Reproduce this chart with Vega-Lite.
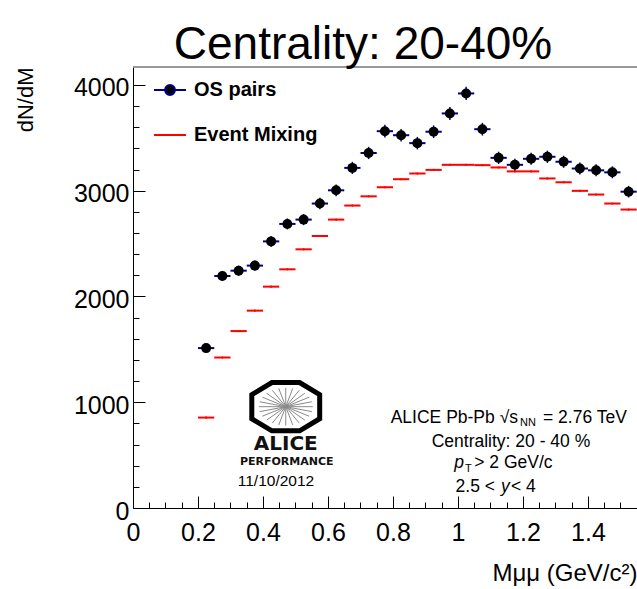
{
  "$schema": "https://vega.github.io/schema/vega-lite/v6.json",
  "width": 504,
  "height": 441,
  "autosize": {"type": "none"},
  "padding": {"left": 133, "top": 67, "right": 0, "bottom": 81},
  "background": "white",
  "config": {
    "font": "Liberation Sans",
    "view": {"stroke": null},
    "axis": {"grid": false, "domainColor": "black", "tickColor": "black", "labelColor": "black", "titleColor": "black", "labelFont": "Liberation Sans", "titleFont": "Liberation Sans", "labelOverlap": false}
  },
  "title": {
    "text": "Centrality: 20-40%",
    "fontSize": 46,
    "font": "Liberation Sans",
    "fontWeight": "normal",
    "color": "black",
    "anchor": "middle",
    "dx": -22,
    "dy": 49,
    "offset": 10,
    "baseline": "alphabetic"
  },
  "resolve": {"axis": {"x": "independent", "y": "independent"}},
  "datasets": {
    "hist": [
      {"m": 0.225, "lo": 0.20, "hi": 0.25, "series": "OS pairs", "val": 1512, "err": 40},
      {"m": 0.275, "lo": 0.25, "hi": 0.30, "series": "OS pairs", "val": 2194, "err": 48},
      {"m": 0.325, "lo": 0.30, "hi": 0.35, "series": "OS pairs", "val": 2244, "err": 48},
      {"m": 0.375, "lo": 0.35, "hi": 0.40, "series": "OS pairs", "val": 2292, "err": 48},
      {"m": 0.425, "lo": 0.40, "hi": 0.45, "series": "OS pairs", "val": 2521, "err": 50},
      {"m": 0.475, "lo": 0.45, "hi": 0.50, "series": "OS pairs", "val": 2686, "err": 52},
      {"m": 0.525, "lo": 0.50, "hi": 0.55, "series": "OS pairs", "val": 2727, "err": 52},
      {"m": 0.575, "lo": 0.55, "hi": 0.60, "series": "OS pairs", "val": 2879, "err": 54},
      {"m": 0.625, "lo": 0.60, "hi": 0.65, "series": "OS pairs", "val": 3004, "err": 55},
      {"m": 0.675, "lo": 0.65, "hi": 0.70, "series": "OS pairs", "val": 3216, "err": 57},
      {"m": 0.725, "lo": 0.70, "hi": 0.75, "series": "OS pairs", "val": 3357, "err": 58},
      {"m": 0.775, "lo": 0.75, "hi": 0.80, "series": "OS pairs", "val": 3563, "err": 60},
      {"m": 0.825, "lo": 0.80, "hi": 0.85, "series": "OS pairs", "val": 3525, "err": 59},
      {"m": 0.875, "lo": 0.85, "hi": 0.90, "series": "OS pairs", "val": 3450, "err": 59},
      {"m": 0.925, "lo": 0.90, "hi": 0.95, "series": "OS pairs", "val": 3558, "err": 60},
      {"m": 0.975, "lo": 0.95, "hi": 1.00, "series": "OS pairs", "val": 3731, "err": 61},
      {"m": 1.025, "lo": 1.00, "hi": 1.05, "series": "OS pairs", "val": 3920, "err": 63},
      {"m": 1.075, "lo": 1.05, "hi": 1.10, "series": "OS pairs", "val": 3582, "err": 60},
      {"m": 1.125, "lo": 1.10, "hi": 1.15, "series": "OS pairs", "val": 3311, "err": 58},
      {"m": 1.175, "lo": 1.15, "hi": 1.20, "series": "OS pairs", "val": 3245, "err": 57},
      {"m": 1.225, "lo": 1.20, "hi": 1.25, "series": "OS pairs", "val": 3302, "err": 57},
      {"m": 1.275, "lo": 1.25, "hi": 1.30, "series": "OS pairs", "val": 3321, "err": 58},
      {"m": 1.325, "lo": 1.30, "hi": 1.35, "series": "OS pairs", "val": 3274, "err": 57},
      {"m": 1.375, "lo": 1.35, "hi": 1.40, "series": "OS pairs", "val": 3210, "err": 57},
      {"m": 1.425, "lo": 1.40, "hi": 1.45, "series": "OS pairs", "val": 3193, "err": 57},
      {"m": 1.475, "lo": 1.45, "hi": 1.50, "series": "OS pairs", "val": 3174, "err": 56},
      {"m": 1.525, "lo": 1.50, "hi": 1.55, "series": "OS pairs", "val": 2991, "err": 55},
      {"m": 0.225, "lo": 0.20, "hi": 0.25, "series": "Event Mixing", "val": 855, "err": 10},
      {"m": 0.275, "lo": 0.25, "hi": 0.30, "series": "Event Mixing", "val": 1423, "err": 10},
      {"m": 0.325, "lo": 0.30, "hi": 0.35, "series": "Event Mixing", "val": 1673, "err": 10},
      {"m": 0.375, "lo": 0.35, "hi": 0.40, "series": "Event Mixing", "val": 1866, "err": 10},
      {"m": 0.425, "lo": 0.40, "hi": 0.45, "series": "Event Mixing", "val": 2093, "err": 10},
      {"m": 0.475, "lo": 0.45, "hi": 0.50, "series": "Event Mixing", "val": 2257, "err": 10},
      {"m": 0.525, "lo": 0.50, "hi": 0.55, "series": "Event Mixing", "val": 2446, "err": 10},
      {"m": 0.575, "lo": 0.55, "hi": 0.60, "series": "Event Mixing", "val": 2572, "err": 10},
      {"m": 0.625, "lo": 0.60, "hi": 0.65, "series": "Event Mixing", "val": 2727, "err": 10},
      {"m": 0.675, "lo": 0.65, "hi": 0.70, "series": "Event Mixing", "val": 2860, "err": 10},
      {"m": 0.725, "lo": 0.70, "hi": 0.75, "series": "Event Mixing", "val": 2947, "err": 10},
      {"m": 0.775, "lo": 0.75, "hi": 0.80, "series": "Event Mixing", "val": 3033, "err": 10},
      {"m": 0.825, "lo": 0.80, "hi": 0.85, "series": "Event Mixing", "val": 3109, "err": 10},
      {"m": 0.875, "lo": 0.85, "hi": 0.90, "series": "Event Mixing", "val": 3163, "err": 10},
      {"m": 0.925, "lo": 0.90, "hi": 0.95, "series": "Event Mixing", "val": 3197, "err": 10},
      {"m": 0.975, "lo": 0.95, "hi": 1.00, "series": "Event Mixing", "val": 3245, "err": 10},
      {"m": 1.025, "lo": 1.00, "hi": 1.05, "series": "Event Mixing", "val": 3245, "err": 10},
      {"m": 1.075, "lo": 1.05, "hi": 1.10, "series": "Event Mixing", "val": 3242, "err": 10},
      {"m": 1.125, "lo": 1.10, "hi": 1.15, "series": "Event Mixing", "val": 3220, "err": 10},
      {"m": 1.175, "lo": 1.15, "hi": 1.20, "series": "Event Mixing", "val": 3183, "err": 10},
      {"m": 1.225, "lo": 1.20, "hi": 1.25, "series": "Event Mixing", "val": 3183, "err": 10},
      {"m": 1.275, "lo": 1.25, "hi": 1.30, "series": "Event Mixing", "val": 3116, "err": 10},
      {"m": 1.325, "lo": 1.30, "hi": 1.35, "series": "Event Mixing", "val": 3080, "err": 10},
      {"m": 1.375, "lo": 1.35, "hi": 1.40, "series": "Event Mixing", "val": 2999, "err": 10},
      {"m": 1.425, "lo": 1.40, "hi": 1.45, "series": "Event Mixing", "val": 2964, "err": 10},
      {"m": 1.475, "lo": 1.45, "hi": 1.50, "series": "Event Mixing", "val": 2879, "err": 10},
      {"m": 1.525, "lo": 1.50, "hi": 1.55, "series": "Event Mixing", "val": 2822, "err": 10}
    ],
    "one": [{}]
  },
  "layer": [
    {
      "data": {"name": "hist"},
      "mark": {"type": "rule", "strokeWidth": 2},
      "encoding": {
        "x": {
          "field": "lo", "type": "quantitative",
          "scale": {"domain": [0, 1.5508], "nice": false, "zero": false},
          "axis": {
            "orient": "bottom",
            "values": [0, 0.2, 0.4, 0.6, 0.8, 1, 1.2, 1.4],
            "format": "~g",
            "labelOverlap": false,
            "labelBound": false,
            "labelFlush": false,
            "labelFontSize": 25,
            "labelPadding": 12,
            "labelBaseline": "top",
            "ticks": false,
            "title": "Mμμ (GeV/c²)",
            "titleFontSize": 24,
            "titleFontWeight": "normal",
            "titleAnchor": "end",
            "titleBaseline": "alphabetic",
            "titleY": 72
          }
        },
        "x2": {"field": "hi"},
        "y": {
          "field": "val", "type": "quantitative",
          "scale": {"domain": [0, 4170], "nice": false},
          "axis": {
            "orient": "left",
            "values": [0, 1000, 2000, 3000, 4000],
            "format": "d",
            "labelOverlap": false,
            "labelBound": false,
            "labelFlush": false,
            "labelFontSize": 25,
            "labelPadding": 4,
            "labelOffset": 3,
            "ticks": false,
            "title": "dN/dM",
            "titleFontSize": 22,
            "titleFontWeight": "normal",
            "titleAnchor": "end",
            "titleAngle": -90,
            "titleBaseline": "alphabetic",
            "titleX": -101,
            "titleY": 0
          }
        },
        "stroke": {
          "field": "series", "type": "nominal",
          "scale": {"domain": ["OS pairs", "Event Mixing"], "range": ["#00008b", "#ff0000"]},
          "legend": {
            "orient": "none",
            "legendX": 20,
            "legendY": 6,
            "title": null,
            "padding": 0,
            "symbolSize": 1024,
            "symbolStrokeWidth": 2,
            "labelFont": "Liberation Sans",
            "labelFontSize": 20,
            "labelFontWeight": "bold",
            "labelColor": "black",
            "labelOffset": 7,
            "rowPadding": 18,
            "encode": {
              "symbols": {
                "update": {
                  "shape": {"signal": "datum.value === 'OS pairs' ? 'M-1,0H-0.31M0.31,0H1M-0.31,0A0.31,0.31 0 1,0 0.31,0A0.31,0.31 0 1,0 -0.31,0Z' : 'M-1,0H1'"},
                  "fill": {"signal": "datum.value === 'OS pairs' ? 'black' : 'transparent'"}
                }
              }
            }
          }
        }
      }
    },
    {
      "data": {"name": "hist"},
      "mark": {"type": "errorbar", "thickness": 1.5},
      "encoding": {
        "x": {"field": "m", "type": "quantitative",
              "axis": {"orient": "bottom", "values": [0, 0.2, 0.4, 0.6, 0.8, 1, 1.2, 1.4], "labels": false, "domain": false, "tickSize": -12, "title": null}},
        "y": {"field": "val", "type": "quantitative",
              "axis": {"orient": "left", "values": [0, 1000, 2000, 3000, 4000], "labels": false, "domain": false, "tickSize": -12, "title": null}},
        "yError": {"field": "err"},
        "color": {
          "field": "series", "type": "nominal",
          "scale": {"domain": ["OS pairs", "Event Mixing"], "range": ["#00008b", "#ff0000"]},
          "legend": null
        }
      }
    },
    {
      "data": {"name": "hist"},
      "transform": [{"filter": "datum.series === 'OS pairs'"}],
      "mark": {"type": "circle", "size": 100, "color": "black", "opacity": 1},
      "encoding": {
        "x": {"field": "m", "type": "quantitative",
              "axis": {"orient": "bottom", "values": [0.05, 0.1, 0.15, 0.25, 0.3, 0.35, 0.45, 0.5, 0.55, 0.65, 0.7, 0.75, 0.85, 0.9, 0.95, 1.05, 1.1, 1.15, 1.25, 1.3, 1.35, 1.45, 1.5, 1.55], "labels": false, "domain": false, "tickSize": -6, "title": null}},
        "y": {"field": "val", "type": "quantitative",
              "axis": {"orient": "left", "values": [200, 400, 600, 800, 1200, 1400, 1600, 1800, 2200, 2400, 2600, 2800, 3200, 3400, 3600, 3800], "labels": false, "domain": false, "tickSize": -6, "title": null}}
      }
    },
    {
      "data": {"name": "one"},
      "mark": {"type": "rule", "color": "#777777", "strokeWidth": 1.5},
      "encoding": {"y": {"datum": 4170, "type": "quantitative", "axis": null}}
    },
    {
      "data": {"name": "one"},
      "mark": {"type": "point", "filled": false, "stroke": "black", "strokeWidth": 5, "size": 5329, "opacity": 1,
               "shape": "M-0.38,-0.66L0.38,-0.66L0.93,-0.33L0.93,0.33L0.38,0.66L-0.38,0.66L-0.93,0.33L-0.93,-0.33Z"},
      "encoding": {"x": {"datum": 0.47, "type": "quantitative", "axis": null}, "y": {"datum": 958, "type": "quantitative", "axis": null}}
    },
    {
      "data": {"name": "one"},
      "mark": {"type": "point", "filled": false, "stroke": "#8a8a8a", "strokeWidth": 1, "size": 5329, "opacity": 1,
               "shape": "M0.74,0L-0.74,0M0.715,0.135L-0.715,-0.135M0.641,0.26L-0.641,-0.26M0.523,0.368L-0.523,-0.368M0.37,0.45L-0.37,-0.45M0.192,0.502L-0.192,-0.502M0,0.52L0,-0.52M-0.192,0.502L0.192,-0.502M-0.37,0.45L0.37,-0.45M-0.523,0.368L0.523,-0.368M-0.641,0.26L0.641,-0.26M-0.715,0.135L0.715,-0.135"},
      "encoding": {"x": {"datum": 0.47, "type": "quantitative", "axis": null}, "y": {"datum": 958, "type": "quantitative", "axis": null}}
    },
    {
      "data": {"name": "one"},
      "mark": {"type": "text", "font": "DejaVu Sans", "fontWeight": "bold", "fontSize": 20, "baseline": "middle", "align": "center", "color": "#111111"},
      "encoding": {"x": {"datum": 0.47, "type": "quantitative", "axis": null}, "y": {"datum": 606, "type": "quantitative", "axis": null}, "text": {"value": "ALICE"}}
    },
    {
      "data": {"name": "one"},
      "mark": {"type": "text", "font": "DejaVu Sans", "fontWeight": "bold", "fontSize": 11, "baseline": "middle", "align": "center", "color": "#111111"},
      "encoding": {"x": {"datum": 0.473, "type": "quantitative", "axis": null}, "y": {"datum": 432, "type": "quantitative", "axis": null}, "text": {"value": "PERFORMANCE"}}
    },
    {
      "data": {"name": "one"},
      "mark": {"type": "text", "fontSize": 15.5, "baseline": "middle", "align": "center", "color": "black"},
      "encoding": {"x": {"datum": 0.44, "type": "quantitative", "axis": null}, "y": {"datum": 252, "type": "quantitative", "axis": null}, "text": {"value": "11/10/2012"}}
    },
    {
      "data": {"name": "one"},
      "mark": {"type": "text", "fontSize": 17.5, "baseline": "middle", "align": "right", "color": "black"},
      "encoding": {"x": {"datum": 1.1846, "type": "quantitative", "axis": null}, "y": {"datum": 851, "type": "quantitative", "axis": null}, "text": {"value": "ALICE Pb-Pb √s"}}
    },
    {
      "data": {"name": "one"},
      "mark": {"type": "text", "fontSize": 11, "baseline": "middle", "align": "left", "dy": 5, "color": "black"},
      "encoding": {"x": {"datum": 1.1908, "type": "quantitative", "axis": null}, "y": {"datum": 851, "type": "quantitative", "axis": null}, "text": {"value": "NN"}}
    },
    {
      "data": {"name": "one"},
      "mark": {"type": "text", "fontSize": 17.5, "baseline": "middle", "align": "left", "color": "black"},
      "encoding": {"x": {"datum": 1.2615, "type": "quantitative", "axis": null}, "y": {"datum": 851, "type": "quantitative", "axis": null}, "text": {"value": "= 2.76 TeV"}}
    },
    {
      "data": {"name": "one"},
      "mark": {"type": "text", "fontSize": 17.5, "baseline": "middle", "align": "center", "color": "black"},
      "encoding": {"x": {"datum": 1.163, "type": "quantitative", "axis": null}, "y": {"datum": 627, "type": "quantitative", "axis": null}, "text": {"value": "Centrality: 20 - 40 %"}}
    },
    {
      "data": {"name": "one"},
      "mark": {"type": "text", "fontSize": 17.5, "fontStyle": "italic", "baseline": "middle", "align": "right", "color": "black"},
      "encoding": {"x": {"datum": 1.0185, "type": "quantitative", "axis": null}, "y": {"datum": 425, "type": "quantitative", "axis": null}, "text": {"value": "p"}}
    },
    {
      "data": {"name": "one"},
      "mark": {"type": "text", "fontSize": 11, "baseline": "middle", "align": "left", "dy": 6, "color": "black"},
      "encoding": {"x": {"datum": 1.0215, "type": "quantitative", "axis": null}, "y": {"datum": 425, "type": "quantitative", "axis": null}, "text": {"value": "T"}}
    },
    {
      "data": {"name": "one"},
      "mark": {"type": "text", "fontSize": 17.5, "baseline": "middle", "align": "left", "color": "black"},
      "encoding": {"x": {"datum": 1.05, "type": "quantitative", "axis": null}, "y": {"datum": 425, "type": "quantitative", "axis": null}, "text": {"value": "> 2 GeV/c"}}
    },
    {
      "data": {"name": "one"},
      "mark": {"type": "text", "fontSize": 17.5, "baseline": "middle", "align": "right", "color": "black"},
      "encoding": {"x": {"datum": 1.1138, "type": "quantitative", "axis": null}, "y": {"datum": 201, "type": "quantitative", "axis": null}, "text": {"value": "2.5 <"}}
    },
    {
      "data": {"name": "one"},
      "mark": {"type": "text", "fontSize": 17.5, "fontStyle": "italic", "baseline": "middle", "align": "left", "color": "black"},
      "encoding": {"x": {"datum": 1.1323, "type": "quantitative", "axis": null}, "y": {"datum": 201, "type": "quantitative", "axis": null}, "text": {"value": "y"}}
    },
    {
      "data": {"name": "one"},
      "mark": {"type": "text", "fontSize": 17.5, "baseline": "middle", "align": "left", "color": "black"},
      "encoding": {"x": {"datum": 1.163, "type": "quantitative", "axis": null}, "y": {"datum": 201, "type": "quantitative", "axis": null}, "text": {"value": "< 4"}}
    }
  ]
}
